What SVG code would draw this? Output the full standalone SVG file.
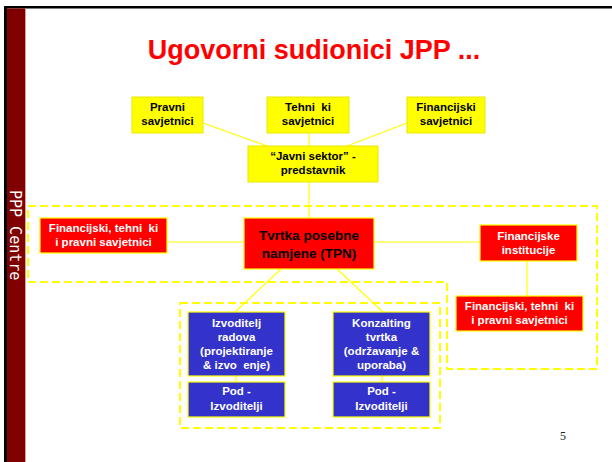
<svg xmlns="http://www.w3.org/2000/svg" width="612" height="462" viewBox="0 0 612 462">
<style>
.t{font-family:"Liberation Sans",Arial,sans-serif;font-weight:bold;font-size:11.5px;text-anchor:middle;white-space:pre}
.big{font-size:13.5px}
.k{fill:#000}
.w{fill:#fff}
.yb{fill:#ffff00;stroke:#e8e800;stroke-width:1}
.rb{fill:#ff0000;stroke:#ffff00;stroke-width:1.2}
.bb{fill:#3333cc;stroke:#ffff00;stroke-width:1.2}
.c{stroke:#ffff00;stroke-width:1.2;fill:none}
.d{stroke:#ffff00;stroke-width:2;fill:none;stroke-dasharray:8 4}
</style>
<rect x="0" y="0" width="612" height="462" fill="#fff"/>
<rect x="4" y="6" width="608" height="2.5" fill="#000"/>
<rect x="4" y="6" width="3" height="456" fill="#000"/>
<rect x="7" y="8.5" width="18" height="453.5" fill="#800000"/>
<rect x="25" y="8.5" width="1" height="453.5" fill="#d8a0a0"/>
<text transform="translate(9.5,190) rotate(90)" font-family="DejaVu Sans Mono,monospace" font-size="15" fill="#fff">PPP Centre</text>
<text x="314" y="59" font-family="Liberation Sans,Arial,sans-serif" font-weight="bold" font-size="27" fill="#ff0000" text-anchor="middle">Ugovorni sudionici JPP ...</text>
<text x="560" y="440" font-family="Liberation Serif,Times New Roman,serif" font-size="12" fill="#222">5</text>

<g id="regions">
<path class="d" d="M28,206 H597 V369 H447 V282 H28 Z"/>
<rect class="d" x="180" y="303" width="260" height="125"/>
</g>

<g id="connectors">
<line class="c" x1="203" y1="123" x2="267" y2="146"/>
<line class="c" x1="309" y1="133" x2="309" y2="146"/>
<line class="c" x1="407" y1="123" x2="347" y2="146"/>
<line class="c" x1="309" y1="182" x2="309" y2="218"/>
<line class="c" x1="167" y1="242" x2="244" y2="242"/>
<line class="c" x1="374" y1="242" x2="480" y2="242"/>
<line class="c" x1="527" y1="261" x2="527" y2="296"/>
<line class="c" x1="281" y1="269" x2="235" y2="312"/>
<line class="c" x1="337" y1="269" x2="383" y2="312"/>
<line class="c" x1="236" y1="376" x2="236" y2="382"/>
<line class="c" x1="382" y1="376" x2="382" y2="382"/>
</g>

<g id="pravni">
<rect class="yb" x="132" y="97" width="71" height="36"/>
<text class="t k" x="167.5" y="111">Pravni</text>
<text class="t k" x="167.5" y="125">savjetnici</text>
</g>
<g id="tehnicki">
<rect class="yb" x="267" y="97" width="82" height="36"/>
<text class="t k" x="308" y="111">Tehni  ki</text>
<text class="t k" x="308" y="125">savjetnici</text>
</g>
<g id="financijski">
<rect class="yb" x="407" y="97" width="78" height="36"/>
<text class="t k" x="446" y="111">Financijski</text>
<text class="t k" x="446" y="125">savjetnici</text>
</g>
<g id="javni">
<rect class="yb" x="248" y="146" width="130" height="36"/>
<text class="t k" x="313" y="160">“Javni sektor” -</text>
<text class="t k" x="313" y="174">predstavnik</text>
</g>
<g id="savjetnici-lijevo">
<rect class="rb" x="40" y="218" width="127" height="35"/>
<text class="t w" x="103.5" y="232">Financijski, tehni  ki</text>
<text class="t w" x="103.5" y="246">i pravni savjetnici</text>
</g>
<g id="tpn">
<rect class="rb" x="244" y="218" width="130" height="51"/>
<text class="t big k" x="309" y="240">Tvrtka posebne</text>
<text class="t big k" x="309" y="258">namjene (TPN)</text>
</g>
<g id="institucije">
<rect class="rb" x="480" y="225" width="97" height="36"/>
<text class="t w" x="528.5" y="240">Financijske</text>
<text class="t w" x="528.5" y="254">institucije</text>
</g>
<g id="savjetnici-desno">
<rect class="rb" x="456" y="296" width="127" height="35"/>
<text class="t w" x="519.5" y="310">Financijski, tehni  ki</text>
<text class="t w" x="519.5" y="324">i pravni savjetnici</text>
</g>
<g id="izvoditelj">
<rect class="bb" x="188" y="312" width="97" height="64"/>
<text class="t w" x="236.5" y="327">Izvoditelj</text>
<text class="t w" x="236.5" y="341">radova</text>
<text class="t w" x="236.5" y="355">(projektiranje</text>
<text class="t w" x="236.5" y="369">&amp; izvo  enje)</text>
</g>
<g id="konzalting">
<rect class="bb" x="333" y="312" width="97" height="64"/>
<text class="t w" x="381.5" y="327">Konzalting</text>
<text class="t w" x="381.5" y="341">tvrtka</text>
<text class="t w" x="381.5" y="355">(održavanje &amp;</text>
<text class="t w" x="381.5" y="369">uporaba)</text>
</g>
<g id="pod1">
<rect class="bb" x="188" y="382" width="97" height="35"/>
<text class="t w" x="236.5" y="395">Pod -</text>
<text class="t w" x="236.5" y="410">Izvoditelji</text>
</g>
<g id="pod2">
<rect class="bb" x="333" y="382" width="97" height="35"/>
<text class="t w" x="381.5" y="395">Pod -</text>
<text class="t w" x="381.5" y="410">Izvoditelji</text>
</g>
</svg>
